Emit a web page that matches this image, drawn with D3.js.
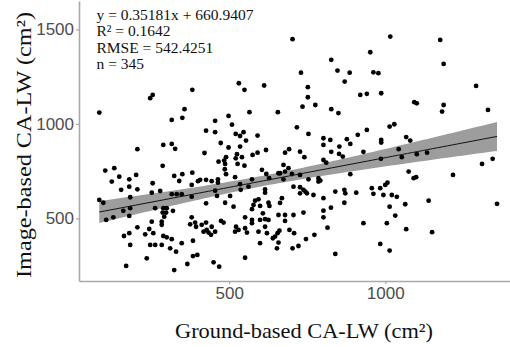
<!DOCTYPE html>
<html>
<head>
<meta charset="utf-8">
<script src="https://cdn.jsdelivr.net/npm/d3@7"></script>
<style>
body { margin: 0; background: #fff; }
svg { display: block; }
</style>
</head>
<body>
<svg id="chart" width="510" height="347"></svg>
<script>
// ground-based CA-LW (cm2), one value per tree
var groundArea = [
  382,549,255,247,357,350,316,498,565,656,455,509,426,455,521,535,546,591,554,289,
  316,327,473,421,498,535,525,541,521,575,591,618,490,484,466,487,527,549,287,486,
  490,382,350,324,340,605,619,628,519,400,407,426,444,464,464,380,255,535,573,658,
  279,252,316,332,348,380,455,461,503,537,562,615,615,594,
  263,289,300,287,298,320,426,487,514,578,583,599,626,629,658,573,292,284,284,252,
  380,375,391,394,412,426,418,428,444,442,434,455,474,482,522,530,519,551,551,557,
  573,573,594,599,615,626,615,621,608,647,640,655,653,257,289,300,316,284,263,247,
  311,330,348,384,599,384,398,366,324,450,468,551,
  920,941,987,752,735,776,827,850,717,754,802,824,802,877,888,912,941,1014,1029,987,
  987,679,692,727,741,827,853,852,864,930,802,811,674,690,679,663,986,1043,701,727,
  674,754,786,792,786,888,706,727,738,744,749,840,869,872,907,770,727,802,957,984,
  1000,1007,1021,1037,962,669,994,
  869,663,738,679,706,679,802,802,826,930,1014,1032,1005,815,661,693,708,658,746,773,
  703,722,840,984,1014,
  531,703,1016,952,827,730,847,886,870,962,978,612,752,
  1176,1187,1291,1093,1101,1187,1182,1329,1067,1080,1053,1101,1134,1310,1344,1075,1091,1099,1217,1064,
  1139,1358,1067,1150,
  84,206,103,132,124,148,180,202,180,154,206,183,84,97,161,183,180,129,106,206,
  163,180,183,231,244,236,170
];
// image-based CA-LW (cm2), same order
var imageArea = [
  1180,1180,1153,1136,1078,1032,1021,1042,1062,1062,1016,996,964,956,947,936,956,938,912,889,
  894,868,899,846,875,880,840,824,818,836,848,862,824,806,800,788,788,779,778,760,
  734,742,734,725,698,757,735,713,718,697,704,704,697,707,689,677,686,681,707,739,
  645,636,628,628,628,615,647,619,619,651,668,654,636,601,
  554,554,554,531,531,540,580,583,562,571,594,566,583,566,518,549,509,483,466,483,
  506,469,478,456,466,478,430,439,456,413,425,430,487,478,456,439,430,506,448,425,
  492,475,430,492,496,492,456,422,527,404,395,422,342,422,407,400,390,360,360,360,
  342,324,369,382,369,301,307,259,227,268,245,292,
  1153,1159,1162,1141,1091,1100,1078,1057,982,947,924,915,889,919,894,942,968,986,998,915,
  901,848,866,853,824,852,880,841,827,852,809,795,783,766,748,739,815,866,735,730,
  707,707,713,700,695,734,668,665,651,642,633,642,651,633,636,624,633,607,660,660,
  677,689,624,614,630,607,624,
  583,582,531,518,518,487,541,506,557,475,562,515,475,451,435,439,422,372,391,413,
  342,354,312,365,330,
  1215,1448,1462,1379,1339,1271,1282,1271,1224,1273,1268,1203,1194,
  1444,1317,1201,1115,1109,1100,1065,1074,930,912,824,840,848,788,815,748,713,718,730,575,
  594,577,443,427,
  1060,866,753,766,695,721,707,730,668,651,654,612,598,583,540,554,513,506,492,453,
  407,422,360,416,444,289,249
];
var xTicks = [500, 1000];
var yTicks = [500, 1000, 1500];
var statLines = ["y = 0.35181x + 660.9407", "R\u00b2 = 0.1642", "RMSE = 542.4251", "n = 345"];
var xTitle = "Ground-based CA-LW (cm\u00b2)";
var yTitle = "Image-based CA-LW (cm\u00b2)";

var svg = d3.select("#chart");
var plotLeft = 79, plotTop = 1, plotBottom = 281, plotRight = 517;

var x = d3.scaleLinear().domain([19, 1422]).range([plotLeft, plotRight]);
var y = d3.scaleLinear().domain([169, 1650]).range([plotBottom, plotTop]);

var data = groundArea.map(function(g, i) { return {x: g, y: imageArea[i]}; });

// least squares fit + 95% confidence band (like geom_smooth(method = "lm"))
var n = data.length;
var mx = d3.mean(data, function(d) { return d.x; });
var my = d3.mean(data, function(d) { return d.y; });
var sxx = d3.sum(data, function(d) { return (d.x - mx) * (d.x - mx); });
var sxy = d3.sum(data, function(d) { return (d.x - mx) * (d.y - my); });
var slope = sxy / sxx;
var intercept = my - slope * mx;
var sse = d3.sum(data, function(d) { var r = d.y - (intercept + slope * d.x); return r * r; });
var s = Math.sqrt(sse / (n - 2));
var tval = 1.968;
var xExt = d3.extent(data, function(d) { return d.x; });
var band = d3.range(0, 81).map(function(k) {
    var xv = xExt[0] + (xExt[1] - xExt[0]) * k / 80;
    var fit = intercept + slope * xv;
    var se = s * Math.sqrt(1 / n + (xv - mx) * (xv - mx) / sxx);
    return {x: xv, fit: fit, lo: fit - tval * se, hi: fit + tval * se};
});

svg.append("path")
    .datum(band)
    .attr("fill", "#9d9d9d")
    .attr("d", d3.area()
        .x(function(d) { return x(d.x); })
        .y0(function(d) { return y(d.lo); })
        .y1(function(d) { return y(d.hi); }));

svg.append("g").selectAll("circle")
    .data(data)
    .enter().append("circle")
    .attr("cx", function(d) { return x(d.x); })
    .attr("cy", function(d) { return y(d.y); })
    .attr("r", 2.4)
    .attr("fill", "#000");

svg.append("path")
    .datum(band)
    .attr("fill", "none")
    .attr("stroke", "#111")
    .attr("stroke-width", 1)
    .attr("d", d3.line()
        .x(function(d) { return x(d.x); })
        .y(function(d) { return y(d.fit); }));

// axes
var xAxis = svg.append("g")
    .attr("transform", "translate(0," + plotBottom + ")")
    .call(d3.axisBottom(x).tickValues(xTicks).tickFormat(d3.format("d"))
        .tickSize(3).tickSizeOuter(0).tickPadding(3));
var yAxis = svg.append("g")
    .attr("transform", "translate(" + plotLeft + ",0)")
    .call(d3.axisLeft(y).tickValues(yTicks).tickFormat(d3.format("d"))
        .tickSize(3).tickSizeOuter(0).tickPadding(2));

[xAxis, yAxis].forEach(function(g) {
    g.select(".domain").attr("stroke", "#a9a9a9").attr("stroke-width", 1.6);
    g.selectAll(".tick line").attr("stroke", "#a9a9a9").attr("stroke-width", 1.2);
    g.selectAll(".tick text")
        .attr("fill", "#4d4d4d")
        .style("font-family", "'Liberation Sans', Arial, sans-serif")
        .style("font-size", "17px");
});

// stats annotation
svg.append("g").selectAll("text")
    .data(statLines)
    .enter().append("text")
    .attr("x", 96.5)
    .attr("y", function(d, i) { return 19.5 + i * 16.5; })
    .attr("fill", "#111")
    .style("font-family", "'Liberation Serif', 'Times New Roman', serif")
    .style("font-size", "15.5px")
    .text(function(d) { return d; });

// axis titles
svg.append("text")
    .attr("x", 304)
    .attr("y", 338)
    .attr("text-anchor", "middle")
    .attr("textLength", 258)
    .attr("lengthAdjust", "spacingAndGlyphs")
    .attr("fill", "#111")
    .style("font-family", "'Liberation Serif', 'Times New Roman', serif")
    .style("font-size", "22px")
    .text(xTitle);

svg.append("text")
    .attr("transform", "translate(31,145) rotate(-90)")
    .attr("text-anchor", "middle")
    .attr("textLength", 266)
    .attr("lengthAdjust", "spacingAndGlyphs")
    .attr("fill", "#111")
    .style("font-family", "'Liberation Serif', 'Times New Roman', serif")
    .style("font-size", "22px")
    .text(yTitle);
</script>
</body>
</html>
